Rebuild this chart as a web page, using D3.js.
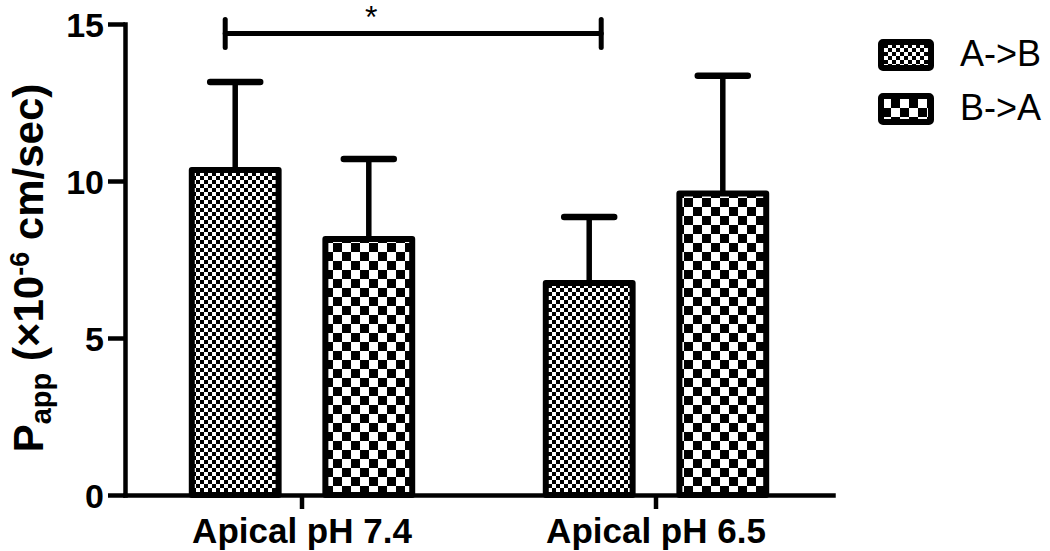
<!DOCTYPE html>
<html>
<head>
<meta charset="utf-8">
<script src="https://cdn.jsdelivr.net/npm/d3@7"></script>
<style>
  html, body { margin: 0; padding: 0; background: #fff; }
  svg { display: block; }
  text { font-family: "Liberation Sans", Arial, Helvetica, sans-serif; fill: #000; }
</style>
</head>
<body>
<svg id="chart" width="1050" height="551"></svg>
<script>
// ---- data ----
const categories = ["Apical pH 7.4", "Apical pH 6.5"];
const seriesNames = ["A->B", "B->A"];
const meanAB = [10.35, 6.75];
const meanBA = [8.15, 9.6];
const errAB = [2.8, 2.1];
const errBA = [2.55, 3.75];
const yTicks = [0, 5, 10, 15];
const sigFrom = ["Apical pH 7.4", "A->B"];
const sigTo = ["Apical pH 6.5", "A->B"];
const sigLevel = 14.7;
const sigLabel = "*";

(function () {
const rows = [];
categories.forEach((c, i) => {
  rows.push({cat: c, series: seriesNames[0], mean: meanAB[i], err: errAB[i]});
  rows.push({cat: c, series: seriesNames[1], mean: meanBA[i], err: errBA[i]});
});

const svg = d3.select("#chart");
const mLeft = 125, mRight = 833, mTop = 24, mBottom = 495;

// patterns
const defs = svg.append("defs");
function checker(id, s) {
  const p = defs.append("pattern").attr("id", id)
    .attr("patternUnits", "userSpaceOnUse")
    .attr("width", 2 * s).attr("height", 2 * s);
  p.append("rect").attr("width", 2 * s).attr("height", 2 * s).attr("fill", "#fff");
  p.append("rect").attr("width", s).attr("height", s).attr("fill", "#000");
  p.append("rect").attr("x", s).attr("y", s).attr("width", s).attr("height", s).attr("fill", "#000");
}
checker("fine", 4);
checker("coarse", 9);
const fillFor = {"A->B": "url(#fine)", "B->A": "url(#coarse)"};

const x0 = d3.scaleBand().domain(categories).range([mLeft, mRight]).paddingInner(0).paddingOuter(0);
const x1 = d3.scaleBand().domain(seriesNames).range([0, x0.bandwidth()]).paddingInner(0.35).paddingOuter(0.5);
const y = d3.scaleLinear().domain([0, 15]).range([mBottom, mTop]);

// error bars
const eb = svg.append("g");
rows.forEach(d => {
  const cx = x0(d.cat) + x1(d.series) + x1.bandwidth() / 2;
  eb.append("line").attr("x1", cx).attr("x2", cx)
    .attr("y1", y(d.mean)).attr("y2", y(d.mean + d.err))
    .attr("stroke", "#000").attr("stroke-width", 5.5);
  eb.append("line").attr("x1", cx - 25).attr("x2", cx + 25)
    .attr("y1", y(d.mean + d.err)).attr("y2", y(d.mean + d.err))
    .attr("stroke", "#000").attr("stroke-width", 6.5).attr("stroke-linecap", "round");
});

// bars
svg.append("g").selectAll("rect").data(rows).join("rect")
  .attr("x", d => x0(d.cat) + x1(d.series))
  .attr("y", d => y(d.mean))
  .attr("width", x1.bandwidth())
  .attr("height", d => y(0) - y(d.mean))
  .attr("fill", d => fillFor[d.series])
  .attr("stroke", "#000").attr("stroke-width", 6)
  .attr("stroke-linejoin", "round");

// axes
const yAxis = svg.append("g").attr("transform", `translate(${mLeft},0)`)
  .call(d3.axisLeft(y).tickValues(yTicks).tickSize(17).tickSizeOuter(0).tickPadding(4));
const xAxis = svg.append("g").attr("transform", `translate(0,${mBottom})`)
  .call(d3.axisBottom(x0).tickSize(14).tickSizeOuter(0).tickPadding(8));
[yAxis, xAxis].forEach(g => {
  g.select(".domain").attr("stroke", "#000").attr("stroke-width", 4.5).attr("stroke-linecap", "square");
  g.selectAll(".tick line").attr("stroke", "#000").attr("stroke-width", 4.5);
  g.selectAll(".tick text").attr("fill", "#000")
    .style("font-family", "'Liberation Sans', Arial, sans-serif")
    .style("font-weight", "bold").style("font-size", "34px");
});
yAxis.selectAll(".tick text").attr("dy", "0.36em");
xAxis.selectAll(".tick text").attr("dy", "0.74em").style("font-size", "35px");

// y label
const yl = svg.append("text")
  .attr("transform", `translate(43,268) rotate(-90)`)
  .attr("text-anchor", "middle")
  .style("font-weight", "bold").style("font-size", "42px");
yl.append("tspan").text("P");
yl.append("tspan").attr("dy", 8).style("font-size", "29px").text("app");
yl.append("tspan").attr("dy", -8).text(" (\u00d710");
yl.append("tspan").attr("dy", -14).style("font-size", "27px").text("-6");
yl.append("tspan").attr("dy", 14).text(" cm/sec)");

// significance bar
const sx1 = x0(sigFrom[0]) + x1(sigFrom[1]) + x1.bandwidth() / 2 - 10;
const sx2 = x0(sigTo[0]) + x1(sigTo[1]) + x1.bandwidth() / 2 + 12;
const sg = svg.append("g").attr("stroke", "#000").attr("stroke-linecap", "round");
sg.append("line").attr("x1", sx1).attr("x2", sx2).attr("y1", y(sigLevel)).attr("y2", y(sigLevel)).attr("stroke-width", 5);
[sx1, sx2].forEach(sx => sg.append("line").attr("x1", sx).attr("x2", sx)
  .attr("y1", y(sigLevel) - 14).attr("y2", y(sigLevel) + 14).attr("stroke-width", 5));
svg.append("text").attr("x", (sx1 + sx2) / 2 - 42).attr("y", 28)
  .attr("text-anchor", "middle").style("font-size", "32px").text(sigLabel);

// legend
const lg = svg.append("g");
seriesNames.forEach((s, i) => {
  const yy = 42 + i * 54;
  lg.append("rect").attr("x", 881).attr("y", yy).attr("width", 50).attr("height", 26)
    .attr("rx", 2).attr("fill", fillFor[s]).attr("stroke", "#000").attr("stroke-width", 6)
    .attr("stroke-linejoin", "round");
  lg.append("text").attr("x", 960).attr("y", yy + 24).style("font-size", "36px").text(s);
});
})();
</script>
</body>
</html>
